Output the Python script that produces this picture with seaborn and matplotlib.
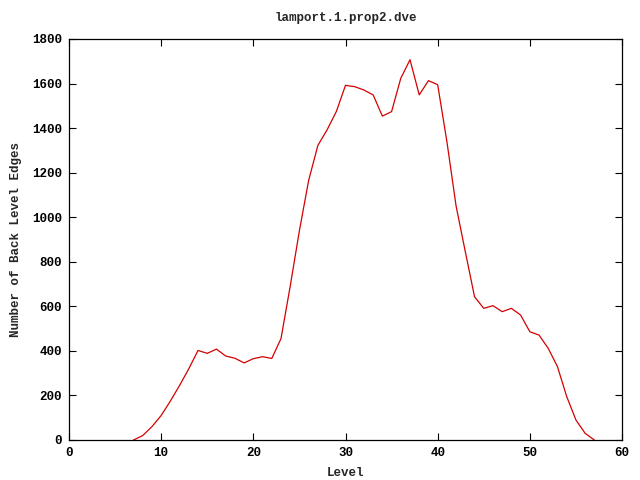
import numpy as np
import pandas as pd
import matplotlib
matplotlib.use("Agg")
import matplotlib.pyplot as plt
import seaborn as sns

# values
levels = list(range(7, 58))
back_edges = [0, 20, 60, 110, 175, 245, 320, 402, 389, 408, 377, 367, 346, 365, 374, 366,
              455, 690, 940, 1165, 1322, 1392, 1474, 1592, 1586, 1571, 1549, 1454, 1474,
              1624, 1707, 1549, 1613, 1595, 1340, 1050, 845, 643, 591, 603, 576, 591, 561,
              486, 471, 411, 329, 195, 90, 30, 0]

df = pd.DataFrame({"Level": levels, "Edges": back_edges})

sns.set_style("ticks")
plt.rcParams["font.family"] = ["Liberation Mono", "DejaVu Sans Mono"]
plt.rcParams["font.weight"] = "bold"

fig = plt.figure(figsize=(6.4, 4.8), dpi=100)
ax = fig.add_axes([69 / 640, 40 / 480, (622 - 69) / 640, (440 - 39) / 480])

sns.lineplot(data=df, x="Level", y="Edges", ax=ax, color="#d40000", linewidth=0.9)

ax.set_xlim(0, 60)
ax.set_ylim(0, 1800)
ax.set_xticks(range(0, 61, 10))
ax.set_yticks(range(0, 1801, 200))
ax.tick_params(direction="in", top=True, right=True, length=5, width=0.8,
               labelsize=9, pad=5, colors="black")
for lab in ax.get_xticklabels() + ax.get_yticklabels():
    lab.set_fontweight("bold")
for s in ax.spines.values():
    s.set_linewidth(0.9)
    s.set_color("black")

ax.set_xlabel("Level", fontsize=9, fontweight="bold", labelpad=6)
ax.set_ylabel("Number of Back Level Edges", fontsize=9, fontweight="bold", labelpad=7)
ax.set_title("lamport.1.prop2.dve", fontsize=9, fontweight="bold", pad=13)

fig.savefig("out.png", dpi=100)
